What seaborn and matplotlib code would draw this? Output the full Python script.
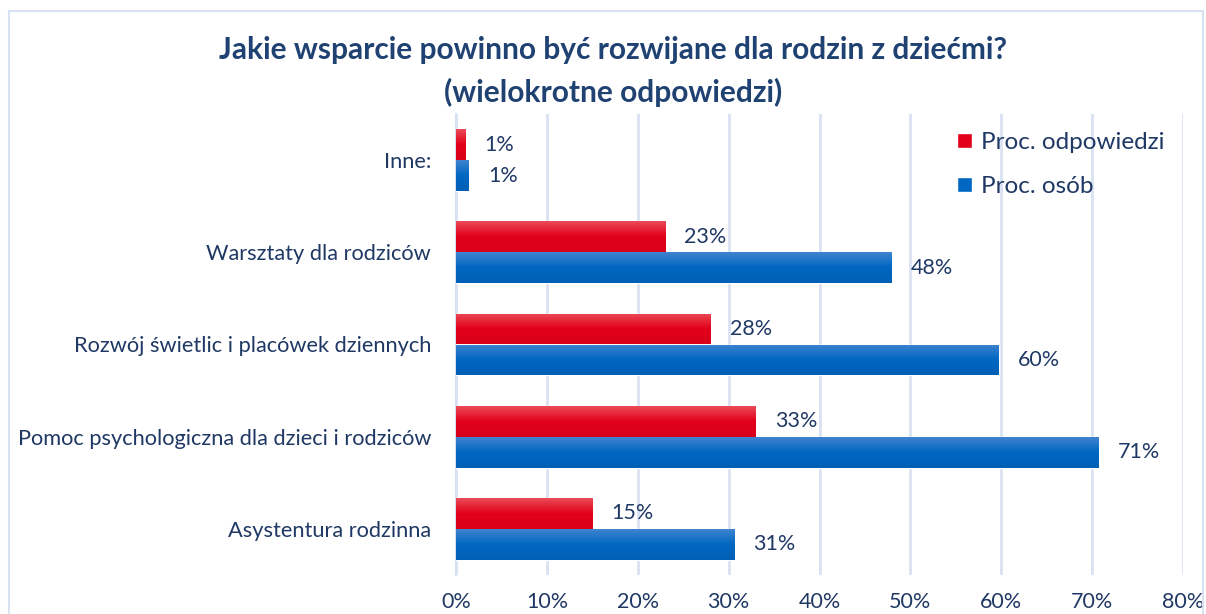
import numpy as np
import pandas as pd
import matplotlib
matplotlib.use("Agg")
import matplotlib.pyplot as plt
import seaborn as sns
from matplotlib.colors import LinearSegmentedColormap
from matplotlib.patches import Rectangle

categories = [
    "Inne:",
    "Warsztaty dla rodziców",
    "Rozwój świetlic i placówek dziennych",
    "Pomoc psychologiczna dla dzieci i rodziców",
    "Asystentura rodzinna",
]
proc_odpowiedzi = [1.0, 23.0, 28.0, 33.0, 15.0]
proc_osob = [1.4, 47.9, 59.7, 70.7, 30.6]
series = ["Proc. odpowiedzi", "Proc. osób"]
x_ticks = [0, 10, 20, 30, 40, 50, 60, 70, 80]

RED = "#E2001A"
BLUE = "#0067C2"
NAVY = "#1F3864"
GRID = "#D9E2F3"

rows = []
for cat, a, b in zip(categories, proc_odpowiedzi, proc_osob):
    rows.append({"kategoria": cat, "seria": series[0], "wartosc": a})
    rows.append({"kategoria": cat, "seria": series[1], "wartosc": b})
df = pd.DataFrame(rows)

sns.set_style("white")
plt.rcParams["font.family"] = ["Lato", "DejaVu Sans"]

W, H = 1206, 614
fig = plt.figure(figsize=(W / 100, H / 100), dpi=100)
ax = fig.add_axes([456 / W, 1 - 575 / H, (1183 - 456) / W, (575 - 114) / H])

sns.barplot(data=df, y="kategoria", x="wartosc", hue="seria", order=categories,
            hue_order=series, palette=[RED, BLUE], orient="h", width=0.67,
            saturation=1, ax=ax, legend=True, zorder=3)

ax.set_xlim(0, 80)
ax.set_ylim(len(categories) - 0.5, -0.5)

# gradient fill on each bar
grad_red = LinearSegmentedColormap.from_list("r", ["#EB4A58", "#E2001A", "#D9001A"])
grad_blue = LinearSegmentedColormap.from_list("b", ["#3F84CF", "#0067C2", "#0060B5"])
for p, cmap in zip(ax.patches[:len(categories) * 2],
                   [grad_red] * len(categories) + [grad_blue] * len(categories)):
    x0, y0 = p.get_x(), p.get_y()
    w, h = p.get_width(), p.get_height()
    if w <= 0:
        continue
    g = np.linspace(0, 1, 64).reshape(-1, 1)
    im = ax.imshow(g, cmap=cmap, aspect="auto", extent=[x0, x0 + w, y0 + h, y0],
                   zorder=4, interpolation="bilinear")
    im.set_clip_path(p)
ax.set_xlim(0, 80)
ax.set_ylim(len(categories) - 0.5, -0.5)

# value labels
for cont in ax.containers:
    ax.bar_label(cont, labels=[f"{v:.0f}%" for v in cont.datavalues], padding=14,
                 fontsize=15.5, color=NAVY, zorder=5)

ax.set_xticks(x_ticks)
ax.set_xticklabels([f"{t}%" for t in x_ticks])
ax.set_yticks(range(len(categories)))
ax.set_yticks(np.arange(-0.5, len(categories), 1), minor=True)
ax.tick_params(axis="x", length=0, pad=12, labelsize=15.5, labelcolor=NAVY)
ax.tick_params(axis="y", which="major", length=0, pad=18, labelsize=15.7, labelcolor=NAVY)
ax.tick_params(axis="y", which="minor", length=5, width=1.5, color=GRID)
ax.set_xlabel("")
ax.set_ylabel("")
ax.grid(axis="x", color=GRID, linewidth=2, zorder=0)
ax.set_axisbelow(True)
for s in ["top", "right", "bottom"]:
    ax.spines[s].set_visible(False)
ax.spines["left"].set_color(GRID)
ax.spines["left"].set_linewidth(1.5)

leg = ax.legend(loc="upper right", bbox_to_anchor=(1.0, 1.0), frameon=False,
                fontsize=17.5, handlelength=0.6, handleheight=0.6, handletextpad=0.4,
                labelspacing=0.95, borderaxespad=0.35)
for t in leg.get_texts():
    t.set_color(NAVY)

fig.text(0.508, 1 - 50 / H, "Jakie wsparcie powinno być rozwijane dla rodzin z dziećmi?",
         ha="center", va="center", fontsize=21.5, fontweight="bold", color="#1F4272")
fig.text(0.508, 1 - 92 / H, "(wielokrotne odpowiedzi)",
         ha="center", va="center", fontsize=21.5, fontweight="bold", color="#1F4272")

fig.patches.append(Rectangle((9 / W, -0.05), (1203 - 9) / W, 1.05 - 11 / H,
                             transform=fig.transFigure, fill=False,
                             edgecolor=GRID, linewidth=1.5))

fig.savefig("out.png", dpi=100)
